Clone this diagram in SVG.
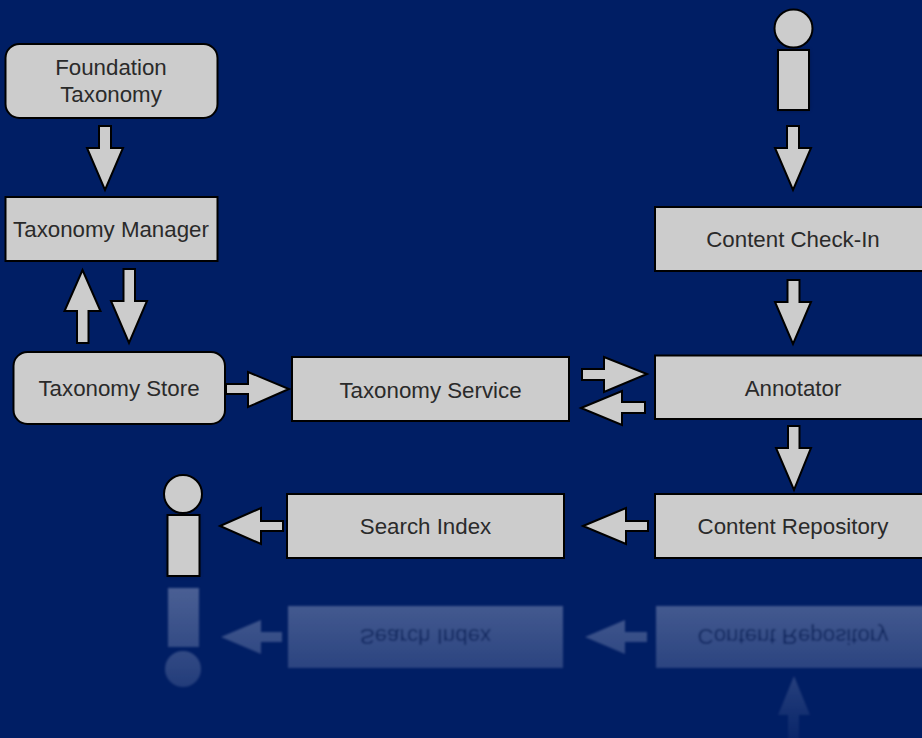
<svg xmlns="http://www.w3.org/2000/svg" width="922" height="738" viewBox="0 0 922 738">
<style>
.s{fill:#ccc;stroke:#000;stroke-width:2}
.t{font-family:"Liberation Sans",Arial,sans-serif;font-size:22.300px;fill:#2a2a2a;text-anchor:middle}
.r{fill:#c4cce4}
.rt{font-family:"Liberation Sans",Arial,sans-serif;font-size:22.300px;fill:#223;text-anchor:middle}
</style>
<defs>
<linearGradient id="fade" gradientUnits="userSpaceOnUse" x1="0" y1="587" x2="0" y2="738">
<stop offset="0" stop-color="#fff" stop-opacity="0.38"/>
<stop offset="0.54" stop-color="#fff" stop-opacity="0.22"/>
<stop offset="0.85" stop-color="#fff" stop-opacity="0.1"/>
<stop offset="1" stop-color="#fff" stop-opacity="0.05"/>
</linearGradient>
<mask id="m" maskUnits="userSpaceOnUse" x="0" y="580" width="922" height="158"><rect x="0" y="580" width="922" height="158" fill="url(#fade)"/></mask>
<filter id="b" x="-5%" y="-5%" width="110%" height="110%"><feGaussianBlur stdDeviation="1"/></filter>
<filter id="sh" x="-30%" y="-30%" width="160%" height="160%"><feGaussianBlur stdDeviation="2"/></filter>
</defs>
<rect id="background" width="922" height="738" fill="#001e64"/>
<g id="reflection" mask="url(#m)"><g filter="url(#b)">
<rect class="r" x="168" y="588" width="31" height="59"/><circle class="r" cx="183" cy="669" r="18"/>
<polygon class="r" points="221,637 261,620 261,632 282,632 282,642 261,642 261,654"/>
<rect class="r" x="288" y="606" width="275" height="62"/>
<polygon class="r" points="585,637 625,620 625,632 647,632 647,642 625,642 625,654"/>
<rect class="r" x="656" y="606" width="270" height="62"/>
<polygon class="r" points="794,676 810,715 799,715 799,740 788,740 788,715 778,715"/>
<text class="rt" transform="translate(425.500,1163) scale(1,-1)" y="534">Search Index</text>
<text class="rt" transform="translate(793,1163) scale(1,-1)" y="534">Content Repository</text>
</g></g>
<g id="connectors">
<polygon class="s" points="99,126 111,126 111,148 123,148 105,190 87,148 99,148"/>
<polygon class="s" points="82.500,270 100.500,311 88.500,311 88.500,343 77,343 77,311 64.500,311"/>
<polygon class="s" points="123.500,269 135,269 135,301 147,301 129,343 111,301 123.500,301"/>
<polygon class="s" points="226,384 248,384 248,372 289,389 248,407 248,394 226,394"/>
<polygon class="s" points="582,369 604,369 604,357 647,374 604,392 604,380 582,380"/>
<polygon class="s" points="581,408 622,391 622,402 645,402 645,413 622,413 622,425"/>
<polygon class="s" points="787,126 799,126 799,148 811,148 793,190 775,148 787,148"/>
<polygon class="s" points="787.500,280 799.500,280 799.500,302 811,302 793,344 775,302 787.500,302"/>
<polygon class="s" points="788,426 799.500,426 799.500,448 811,448 794,490 776,448 788,448"/>
<polygon class="s" points="583,526 626,508 626,521 648,521 648,531 626,531 626,544"/>
<polygon class="s" points="220,526 261,508 261,521 283,521 283,531 261,531 261,544"/>
</g>
<g id="foundation-taxonomy"><rect class="s" x="5.500" y="44" width="212" height="74" rx="14"/><text class="t" x="111" y="75">Foundation</text><text class="t" x="111" y="102">Taxonomy</text></g>
<g id="taxonomy-manager"><rect class="s" x="5.500" y="197" width="212" height="64"/><text class="t" x="111" y="237">Taxonomy Manager</text></g>
<g id="taxonomy-store"><rect class="s" x="13.500" y="352" width="211.500" height="72" rx="14"/><text class="t" x="119" y="396">Taxonomy Store</text></g>
<g id="taxonomy-service"><rect class="s" x="292" y="357" width="277" height="64"/><text class="t" x="430.500" y="398">Taxonomy Service</text></g>
<g id="annotator"><rect class="s" x="655" y="355.500" width="270" height="63.500"/><text class="t" x="793" y="396">Annotator</text></g>
<g id="content-check-in"><rect class="s" x="655" y="207" width="270" height="64"/><text class="t" x="793" y="247">Content Check-In</text></g>
<g id="content-repository"><rect class="s" x="655" y="494" width="270" height="64"/><text class="t" x="793" y="534">Content Repository</text></g>
<g id="search-index"><rect class="s" x="287" y="494" width="277" height="64"/><text class="t" x="425.500" y="534">Search Index</text></g>
<g id="user-top"><rect x="778" y="50" width="31" height="60" fill="#000" opacity="0.35" filter="url(#sh)"/><circle class="s" cx="793.500" cy="28.500" r="19"/><rect class="s" x="778" y="50" width="31" height="60"/></g>
<g id="user-bottom"><rect x="167.500" y="515" width="32" height="61" fill="#000" opacity="0.35" filter="url(#sh)"/><circle class="s" cx="183" cy="494" r="19"/><rect class="s" x="167.500" y="515" width="32" height="61"/></g>
</svg>
